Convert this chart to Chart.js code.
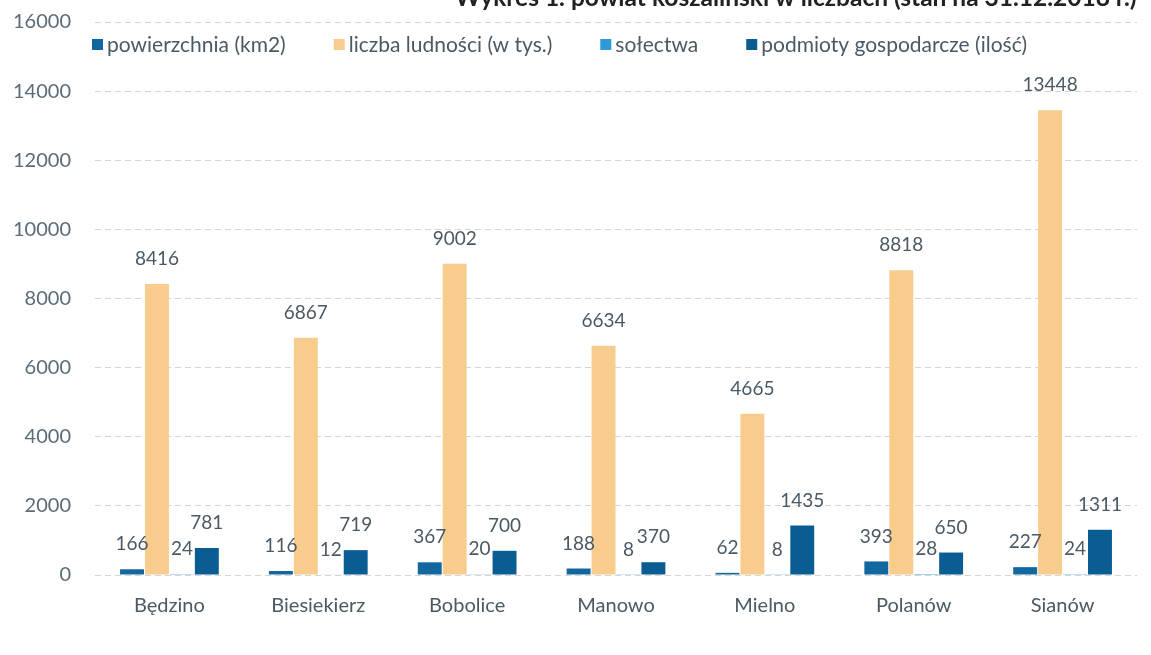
<!DOCTYPE html>
<html>
<head>
<meta charset="utf-8">
<script src="https://cdn.jsdelivr.net/npm/chart.js@4.4.1/dist/chart.umd.min.js"></script>
<style>
  html, body { margin: 0; padding: 0; background: #fff; }
  #wrap { position: relative; width: 1151px; height: 655px; overflow: hidden; }
  /* canvas starts a bit above the page edge: the scan cuts off the title */
  #inner { position: absolute; left: 0; top: -14px; width: 1151px; height: 669px; }
</style>
</head>
<body>
<div id="wrap"><div id="inner"><canvas id="myChart"></canvas></div></div>
<script>
var gminy = ['Będzino', 'Biesiekierz', 'Bobolice', 'Manowo', 'Mielno', 'Polanów', 'Sianów'];
var powierzchnia = [166, 116, 367, 188, 62, 393, 227];
var ludnosc = [8416, 6867, 9002, 6634, 4665, 8818, 13448];
var solectwa = [24, 12, 20, 8, 8, 28, 24];
var podmioty = [781, 719, 700, 370, 1435, 650, 1311];
var yTicks = [0, 2000, 4000, 6000, 8000, 10000, 12000, 14000, 16000];
var tytul = 'Wykres 1. powiat koszaliński w liczbach (stan na 31.12.2018 r.)';

var FONT = 'Lato, "Open Sans", sans-serif';
var TEXT = '#4b5964';

// values above each bar
var valueLabels = {
    id: 'valueLabels',
    afterDatasetsDraw: function (chart) {
        var c = chart.ctx;
        c.save();
        c.font = '19px ' + FONT;
        c.fillStyle = TEXT;
        c.textAlign = 'center';
        c.textBaseline = 'middle';
        chart.data.datasets.forEach(function (ds, i) {
            chart.getDatasetMeta(i).data.forEach(function (bar, j) {
                c.fillText(String(ds.data[j]), bar.x, bar.y - 25);
            });
        });
        c.restore();
    }
};

// legend sits inside the plot, in one row, between the 16000 and 14000 lines
var rowLegend = {
    id: 'rowLegend',
    afterDraw: function (chart) {
        var c = chart.ctx;
        var x = chart.chartArea.left - 3;
        var y = chart.chartArea.top + 23;
        c.save();
        c.font = '21px ' + FONT;
        c.textBaseline = 'middle';
        c.textAlign = 'left';
        chart.data.datasets.forEach(function (ds) {
            c.fillStyle = ds.backgroundColor;
            c.fillRect(x, y - 6, 11, 11);
            c.fillStyle = TEXT;
            c.fillText(ds.label, x + 15, y);
            x += 15 + c.measureText(ds.label).width + 48;
        });
        c.restore();
    }
};

// title, cut off by the top edge as in the scan
var topTitle = {
    id: 'topTitle',
    afterDraw: function (chart) {
        var c = chart.ctx;
        c.save();
        c.font = 'bold 24.5px ' + FONT;
        c.fillStyle = '#222';
        c.textAlign = 'left';
        c.textBaseline = 'alphabetic';
        c.fillText(tytul, 455, 20);
        c.restore();
    }
};

var ctx = document.getElementById('myChart').getContext('2d');

var myChart = new Chart(ctx, {
    type: 'bar',
    data: {
        labels: gminy,
        datasets: [
            { label: 'powierzchnia (km2)', data: powierzchnia, backgroundColor: '#12679f' },
            { label: 'liczba ludności (w tys.)', data: ludnosc, backgroundColor: '#f8cc8c' },
            { label: 'sołectwa', data: solectwa, backgroundColor: '#2e9bd6' },
            { label: 'podmioty gospodarcze (ilość)', data: podmioty, backgroundColor: '#0a5d93' }
        ]
    },
    options: {
        responsive: true,
        maintainAspectRatio: false,
        animation: false,
        layout: { padding: { top: 0, left: 0, right: 14, bottom: 26 } },
        datasets: { bar: { categoryPercentage: 0.67, barPercentage: 0.96 } },
        plugins: {
            tooltip: { enabled: false },
            legend: { display: false }
        },
        scales: {
            x: {
                grid: { display: false },
                border: { display: false },
                ticks: { font: { family: FONT, size: 20 }, color: TEXT, padding: 11 }
            },
            y: {
                min: 0,
                max: 16000,
                afterBuildTicks: function (axis) {
                    axis.ticks = yTicks.map(function (v) { return { value: v }; });
                },
                afterFit: function (axis) { axis.width = 95; },
                grid: { color: '#d4d4d4', drawTicks: false },
                border: { display: false, dash: [6, 4] },
                ticks: {
                    font: { family: FONT, size: 20 },
                    color: '#5a6c78',
                    padding: 24,
                    callback: function (v) { return String(v); }
                }
            }
        }
    },
    plugins: [valueLabels, rowLegend, topTitle]
});
</script>
</body>
</html>
